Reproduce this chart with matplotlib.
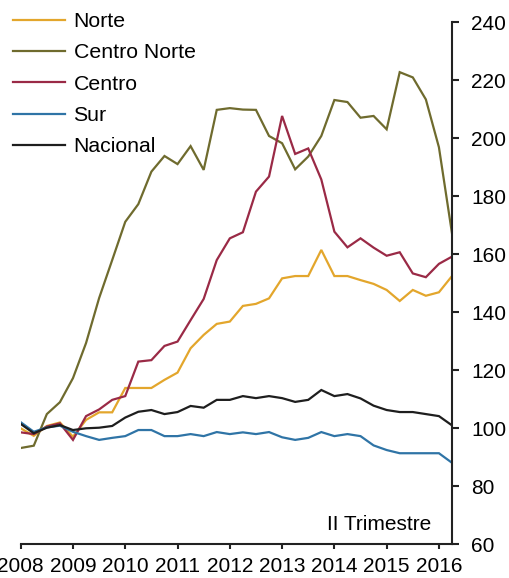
import matplotlib
matplotlib.use("Agg")
import matplotlib.pyplot as plt
import numpy as np

plt.rcParams['font.family'] = ['Liberation Sans', 'DejaVu Sans']

years = [2008, 2009, 2010, 2011, 2012, 2013, 2014, 2015, 2016]
n_quarters = 34
x = [2008 + i / 4 for i in range(n_quarters)]

norte = [99.9, 97.3, 100.7, 101.9, 97.0, 102.8, 105.4, 105.4, 113.8, 113.8,
         113.8, 116.6, 119.1, 127.5, 132.1, 135.9, 136.7, 142.1, 142.8, 144.7,
         151.6, 152.4, 152.4, 161.4, 152.4, 152.4, 151.0, 149.7, 147.6, 143.8,
         147.6, 145.6, 146.8, 152.4]
centro_norte = [93.1, 93.9, 104.8, 108.9, 117.2, 129.3, 144.8, 157.9, 171.1, 177.2,
                188.4, 193.8, 191.0, 197.2, 189.0, 209.7, 210.3, 209.8, 209.7, 200.7,
                198.2, 189.2, 193.6, 200.7, 213.1, 212.4, 207.0, 207.6, 203.0, 222.7,
                220.9, 213.3, 196.8, 167.1]
centro = [98.5, 97.9, 100.5, 101.6, 95.9, 104.1, 106.4, 109.7, 111.0, 122.9,
          123.4, 128.3, 129.8, 137.2, 144.5, 157.9, 165.4, 167.5, 181.5, 186.7,
          207.6, 194.5, 196.4, 185.7, 167.7, 162.3, 165.4, 162.2, 159.4, 160.6,
          153.3, 152.0, 156.6, 159.1]
sur = [102.0, 98.7, 100.2, 100.8, 98.7, 97.2, 95.9, 96.6, 97.2, 99.3,
       99.3, 97.2, 97.2, 97.9, 97.2, 98.6, 97.9, 98.5, 97.9, 98.6,
       96.8, 95.9, 96.6, 98.6, 97.2, 97.9, 97.2, 94.0, 92.4, 91.3,
       91.3, 91.3, 91.3, 88.0]
nacional = [101.4, 98.2, 100.1, 101.0, 99.3, 99.9, 100.1, 100.7, 103.6, 105.6,
            106.2, 104.8, 105.5, 107.6, 107.0, 109.7, 109.7, 111.0, 110.3, 111.0,
            110.3, 109.0, 109.7, 113.1, 111.0, 111.7, 110.2, 107.7, 106.2, 105.5,
            105.5, 104.8, 104.1, 100.9]

series = [
    ("Norte", norte, "#E3A62C"),
    ("Centro Norte", centro_norte, "#6F6B2E"),
    ("Centro", centro, "#9A2A46"),
    ("Sur", sur, "#2F74A6"),
    ("Nacional", nacional, "#1E1E1E"),
]

fig = plt.figure(figsize=(5.1, 5.78), dpi=100)
ax = fig.add_axes([20.7 / 510, 1 - 544 / 578, (452 - 20.7) / 510, (544 - 22) / 578])

for label, vals, col in series:
    ax.plot(x, vals, color=col, lw=1.6, label=label, solid_joinstyle='miter')

ax.set_xlim(2008, 2008 + (n_quarters - 1) / 4)
ax.set_ylim(60, 240)
ax.set_xticks(years)
ax.set_xticklabels([str(y) for y in years])
ax.set_yticks(np.arange(60, 241, 20))

ax.spines['top'].set_visible(False)
ax.spines['left'].set_visible(False)
for s in ['right', 'bottom']:
    ax.spines[s].set_linewidth(1.5)
    ax.spines[s].set_color('#222222')
ax.yaxis.tick_right()
ax.yaxis.set_label_position('right')
ax.tick_params(axis='both', labelsize=15, width=1.5, color='#222222', direction='out')
ax.tick_params(axis='y', length=5, pad=9)
ax.tick_params(axis='x', length=3.8, pad=5.8)
for lab in ax.get_xticklabels() + ax.get_yticklabels():
    lab.set_clip_on(False)

ax.text(431 / 510, 1 - 525 / 578, "II Trimestre", transform=fig.transFigure,
        ha='right', va='center', fontsize=15)

leg = fig.legend(loc='upper left', bbox_to_anchor=(13 / 510, 1 - 12 / 578),
                 frameon=False, fontsize=15.3, handlelength=2.45, handletextpad=0.4,
                 labelspacing=0.58, borderpad=0, borderaxespad=0)

fig.savefig("out.png", dpi=100)
